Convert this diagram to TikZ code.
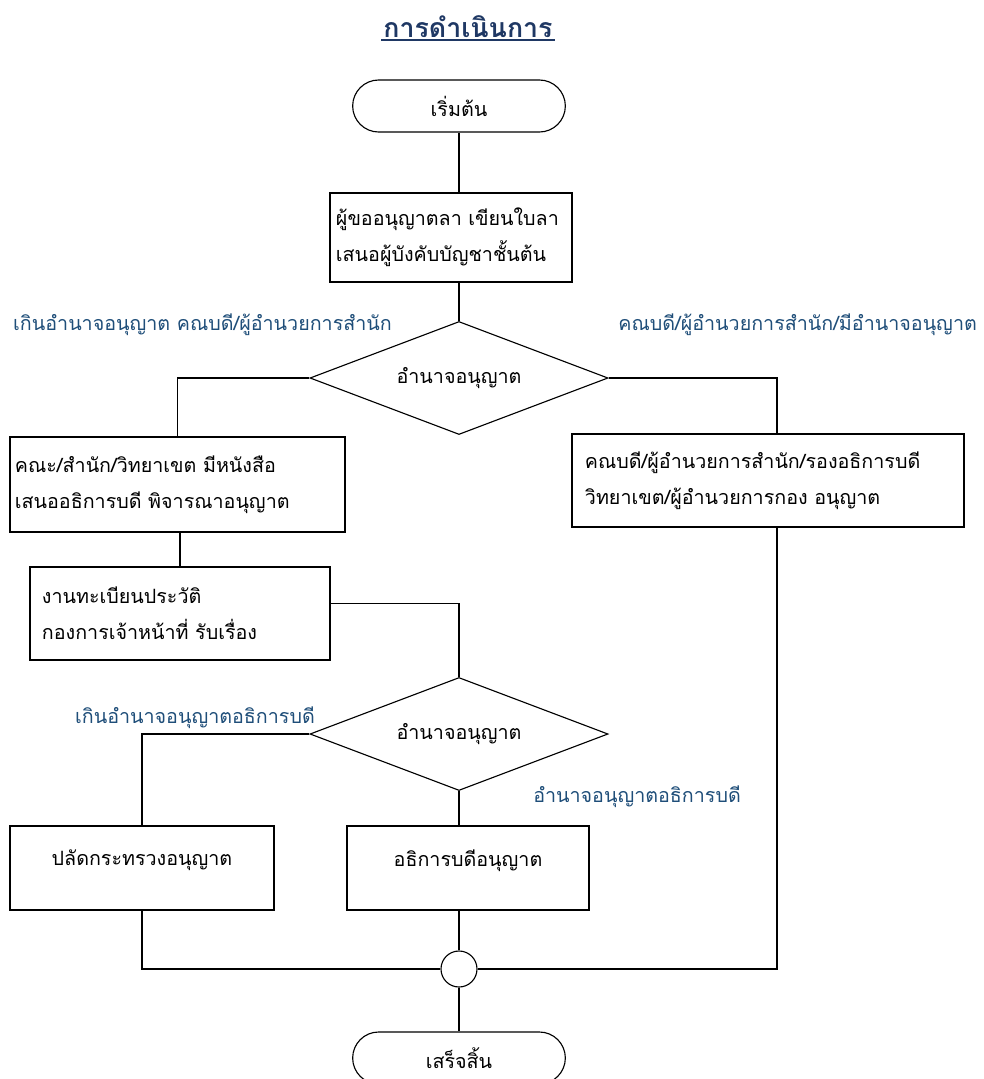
\documentclass[tikz,border=0pt]{standalone}
\usepackage{fontspec}
\setmainfont[Script=Thai]{Loma}
\usepackage{tikz}
\usetikzlibrary{shapes.geometric}
\usetikzlibrary{shapes.misc}
\definecolor{labelblue}{HTML}{1F4E79}
\definecolor{titleblue}{HTML}{1F3864}

\begin{document}
\begin{tikzpicture}[x=0.025cm,y=-0.025cm,line width=0.8pt,
  font=\fontsize{14}{25.6}\selectfont,
  box/.style={draw,rectangle},
  term/.style={draw,rounded rectangle,minimum width=5.55cm,minimum height=1.3cm},
  decide/.style={draw,diamond,shape aspect=2.6,minimum width=7.45cm,minimum height=2.825cm,inner sep=0pt},
  note/.style={text=labelblue},
  title/.style={text=titleblue,font=\fontsize{19}{22}\selectfont\bfseries,inner sep=1pt}]
\useasboundingbox (0,0) rectangle (984,1079);
\node[title] (title) at (468,27) {การดำเนินการ};
\draw[titleblue,line width=1.2pt] (title.south west) -- (title.south east);
\node[term] (start) at (459,106) {เริ่มต้น};
\node[box,align=left,text width=5.75cm,inner xsep=0.15cm,minimum height=2.225cm] (box1) at (451,237.5)
  {ผู้ขออนุญาตลา เขียนใบลา\\เสนอผู้บังคับบัญชาชั้นต้น};
\node[decide] (d1) at (459,378) {อำนาจอนุญาต};
\node[box,align=left,text width=8.125cm,inner xsep=0.125cm,minimum height=2.375cm] (box2) at (177.5,484.5)
  {คณะ/สำนัก/วิทยาเขต มีหนังสือ\\เสนออธิการบดี พิจารณาอนุญาต};
\node[box,align=left,text width=9.15cm,inner xsep=0.325cm,minimum height=2.325cm] (box3) at (768,480.5)
  {คณบดี/ผู้อำนวยการสำนัก/รองอธิการบดี\\วิทยาเขต/ผู้อำนวยการกอง อนุญาต};
\node[box,align=left,text width=6.9cm,inner xsep=0.3cm,minimum height=2.325cm] (box4) at (180,613.5)
  {งานทะเบียนประวัติ\\กองการเจ้าหน้าที่ รับเรื่อง};
\node[decide] (d2) at (459,734) {อำนาจอนุญาต};
\node[box,align=center,text width=6cm,inner xsep=0.3cm,minimum height=2.1cm] (box5) at (142,868)
  {ปลัดกระทรวงอนุญาต\\[-11pt]\mbox{}};
\node[box,align=center,text width=5.45cm,inner xsep=0.3cm,minimum height=2.1cm] (box6) at (468,868)
  {อธิการบดีอนุญาต\\[-11pt]\mbox{}};
\node[draw,circle,minimum size=0.9cm,inner sep=0pt] (join) at (459,969) {};
\node[term] (stop) at (459,1058) {เสร็จสิ้น};
\node[note,anchor=west] (n1) at (8,325) {เกินอำนาจอนุญาต คณบดี/ผู้อำนวยการสำนัก};
\node[note,anchor=east] (n2) at (982,325) {คณบดี/ผู้อำนวยการสำนัก/มีอำนาจอนุญาต};
\node[note,anchor=east] (n3) at (320,718) {เกินอำนาจอนุญาตอธิการบดี};
\node[note,anchor=west] (n4) at (528,797) {อำนาจอนุญาตอธิการบดี};
\draw (start.south) -- (start.south |- box1.north);
\draw (box1.south -| d1.north) -- (d1.north);
\draw (d1.west) -| (box2.north);
\draw (d1.east) -| ([xshift=0.225cm]box3.north);
\draw (box4.north |- box2.south) -- (box4.north);
\draw ([yshift=0.26cm]box4.east) -| (d2.north);
\draw (d2.west) -| (box5.north);
\draw (d2.south) -- (d2.south |- box6.north);
\draw (box5.south) |- (join.west);
\draw (box6.south -| join.north) -- (join.north);
\draw ([xshift=0.225cm]box3.south) |- (join.east);
\draw (join.south) -- (join.south |- stop.north);
\end{tikzpicture}
\end{document}
